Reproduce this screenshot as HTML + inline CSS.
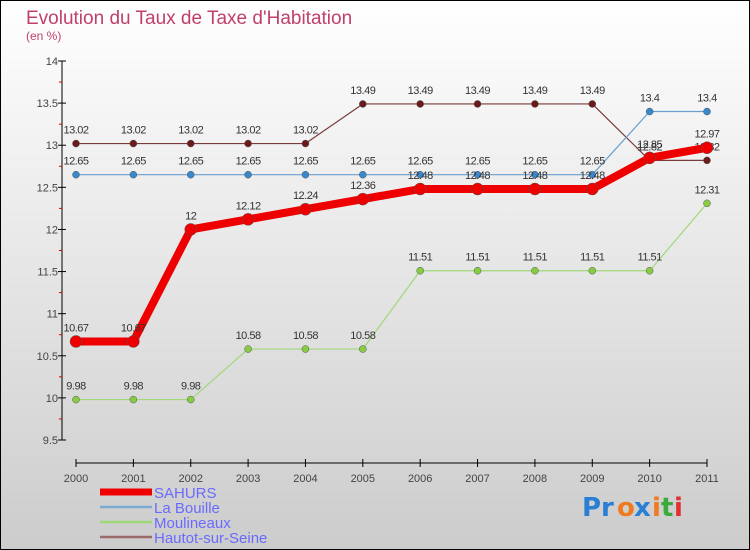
<!DOCTYPE html>
<html><head><meta charset="utf-8"><style>
body{margin:0;width:750px;height:550px;overflow:hidden;font-family:"Liberation Sans",sans-serif}
svg{display:block}
</style></head><body>
<svg width="750" height="550" xmlns="http://www.w3.org/2000/svg">
<defs><linearGradient id="bg" x1="0" y1="0" x2="0" y2="1"><stop offset="0" stop-color="#ffffff"/><stop offset="1" stop-color="#cccccc"/></linearGradient></defs>
<rect x="0.5" y="0.5" width="749" height="549" fill="url(#bg)" stroke="#000"/>
<text x="26" y="24" font-size="19" fill="#c0406a">Evolution du Taux de Taxe d'Habitation</text>
<text x="26" y="40" font-size="12" fill="#c0406a">(en %)</text>
<g id="axes"></g>
<g id="series"></g>
<g id="legend"></g>
<g font-size="26" font-weight="bold" font-family="'DejaVu Sans',sans-serif">
<text x="582" y="516" fill="#2a7fd4">Pr</text><text x="617" y="516" fill="#f07a20">o</text><text x="634" y="516" fill="#2a7fd4">x</text><text x="652" y="516" fill="#f07a20">i</text><text x="661" y="516" fill="#3aaa3a">t</text><text x="674" y="516" fill="#e03030">i</text>
</g>
</svg>
<script>
const years=["2000","2001","2002","2003","2004","2005","2006","2007","2008","2009","2010","2011"];
const yTicks=[9.5,10,10.5,11,11.5,12,12.5,13,13.5,14];
const sahurs=[10.67,10.67,12,12.12,12.24,12.36,12.48,12.48,12.48,12.48,12.85,12.97];
const laBouille=[12.65,12.65,12.65,12.65,12.65,12.65,12.65,12.65,12.65,12.65,13.4,13.4];
const moulineaux=[9.98,9.98,9.98,10.58,10.58,10.58,11.51,11.51,11.51,11.51,11.51,12.31];
const hautot=[13.02,13.02,13.02,13.02,13.02,13.49,13.49,13.49,13.49,13.49,12.82,12.82];
const NS="http://www.w3.org/2000/svg";
const X=i=>76+i*(707-76)/11;
const Y=v=>61+(14-v)*(440-61)/4.5;
function mk(t,a,p){const e=document.createElementNS(NS,t);for(const k in a)e.setAttribute(k,a[k]);p.appendChild(e);return e;}
const ax=document.getElementById('axes');
let l=mk('line',{x1:62,y1:61,x2:62,y2:440,stroke:'#000'},ax);


l=mk('line',{x1:76,y1:463,x2:707,y2:463,stroke:'#000'},ax);


yTicks.forEach((v,i)=>{
 mk('line',{x1:58,y1:Y(v),x2:66,y2:Y(v),stroke:'#000'},ax);
 if(i<yTicks.length-1)mk('line',{x1:59,y1:Y(v+0.25),x2:62,y2:Y(v+0.25),stroke:'#d00'},ax);
 const t=mk('text',{x:58,y:Y(v)+4,'font-size':11,'text-anchor':'end',fill:'#444'},ax);t.textContent=String(v);
 
 
});
years.forEach((y,i)=>{
 mk('line',{x1:X(i),y1:459,x2:X(i),y2:467,stroke:'#000'},ax);
 const t=mk('text',{x:X(i),y:482,'font-size':11,'text-anchor':'middle',fill:'#444'},ax);t.textContent=y;
 
 
});
const sg=document.getElementById('series');
function draw(data,color,w,r,name,ptColor){
 const g=mk('g',{},sg);
 
 
 const p=mk('polyline',{points:data.map((v,i)=>X(i)+','+Y(v)).join(' '),fill:'none',stroke:color,'stroke-width':w,'stroke-linejoin':'round'},g);
 
 
 data.forEach((v,i)=>{
  const c=mk('circle',{cx:X(i),cy:Y(v),r:r,fill:ptColor,stroke:'#555','stroke-width':0.5},g);
  
  
  const t=mk('text',{x:X(i),y:Y(v)-10,'font-size':11,'text-anchor':'middle',fill:'#333','letter-spacing':'-0.5'},g);
  t.textContent=String(v);
  
  
 });
}
draw(hautot,'#7a3a3a',1.2,3.5,'hautot-sur-seine','#6a1a1a');
draw(laBouille,'#6aa0d0',1.2,3.5,'la-bouille','#3a88cc');
draw(moulineaux,'#a0d878',1.2,3.5,'moulineaux','#88cc44');
draw(sahurs,'#ee0000',8,6,'sahurs','#ee0000');
const lg=document.getElementById('legend');
[['SAHURS','#ee0000',7],['La Bouille','#7aaad0',2.5],['Moulineaux','#a0d878',2.5],['Hautot-sur-Seine','#9a6a6a',2.5]].forEach((d,i)=>{
 const y=492+i*15;
 const s=mk('line',{x1:100,y1:y,x2:152,y2:y,stroke:d[1],'stroke-width':d[2]},lg);
 
 
 const t=mk('text',{x:154,y:y+6,'font-size':15,fill:'#6a6aff'},lg);t.textContent=d[0];
 
 
});
</script>
</body></html>
